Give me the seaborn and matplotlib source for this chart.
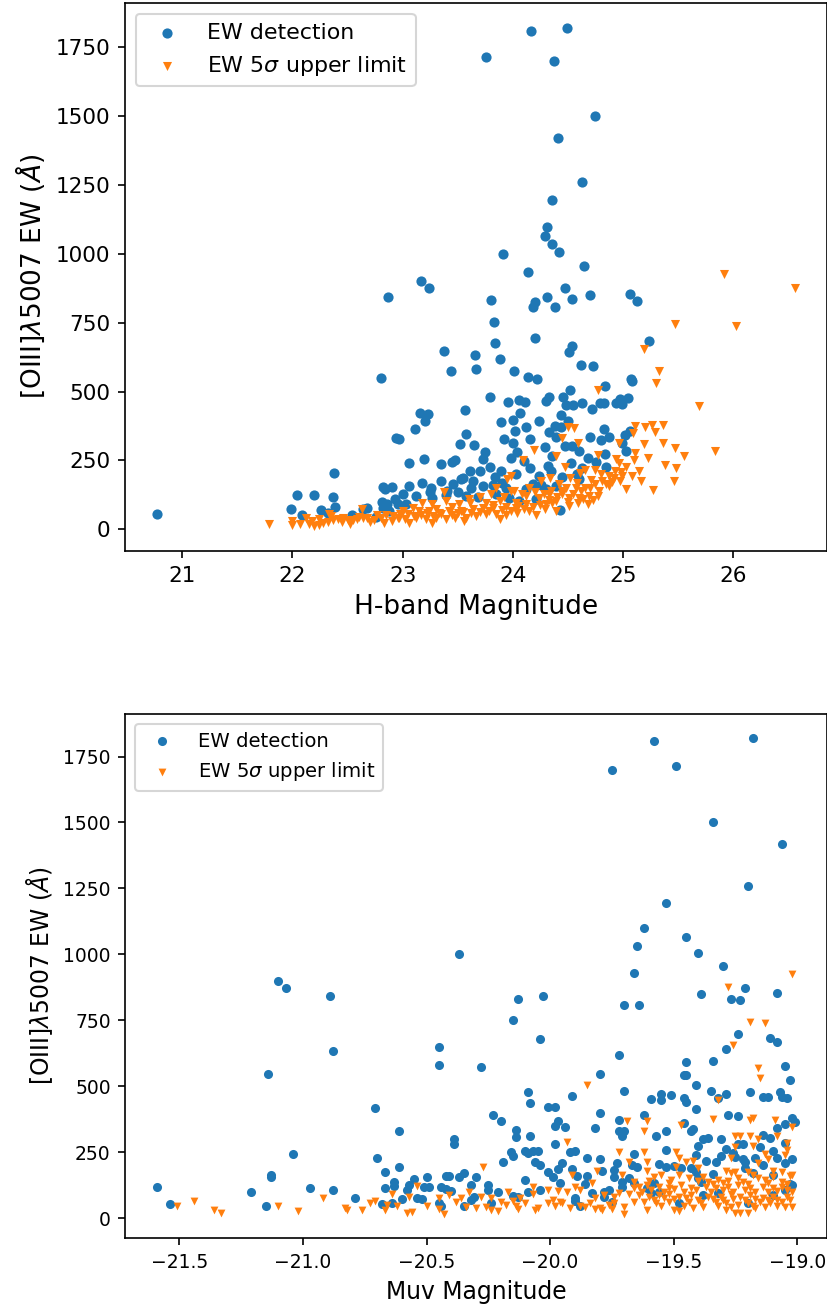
import matplotlib
matplotlib.use("Agg")
import matplotlib.pyplot as plt
import seaborn as sns

# ---------------- H-band panel ----------------
h_det = [24.17, 24.49, 23.76, 24.37, 24.75, 24.41, 24.63, 24.36, 24.31, 24.29, 24.36, 24.42, 23.91,
         24.65, 24.14, 23.17, 23.24, 22.87, 24.47, 23.80, 24.20, 24.31, 24.18, 24.38, 24.54, 24.70,
         25.06, 25.13, 23.83, 23.84, 24.20, 24.54, 24.51, 25.24, 23.38, 23.66, 23.88, 23.44, 23.67,
         24.01, 24.62, 24.73, 22.80, 24.14, 24.22, 25.07,
         25.08, 24.84, 24.52, 24.46, 25.05, 24.97, 24.99, 24.94, 24.83, 24.79, 24.63, 24.55, 24.48,
         24.72, 24.44, 24.50, 24.44, 25.06, 24.83, 25.02, 24.70, 24.80, 24.87, 24.99, 24.54, 24.47,
         24.60, 25.03, 24.84, 24.76, 24.53, 24.85, 24.63, 24.60, 24.43,
         23.79, 23.96, 24.06, 24.11, 24.33, 24.30, 23.57, 23.16, 23.23, 23.20, 24.07, 23.89, 24.00,
         24.12, 24.02, 24.24, 24.38, 23.11, 22.97, 23.58, 23.92, 24.33, 24.39, 23.52, 23.65, 24.00,
         24.16, 24.29, 23.75, 23.98, 24.04, 23.06, 23.19, 23.35, 23.45, 23.48, 23.73, 23.79, 23.70,
         23.61, 24.10, 24.16, 24.32, 24.35, 23.55, 23.64, 23.89, 24.03, 24.24, 23.06, 23.18, 23.35,
         23.46, 23.53, 23.26, 23.82, 23.73, 23.94, 24.18, 24.30, 24.39, 23.00, 23.12, 23.27, 23.39,
         23.58, 23.68, 23.85, 23.97, 24.06, 24.21, 23.03,
         20.77, 22.94, 22.38, 22.82, 22.90, 22.84, 22.04, 22.20, 22.37, 21.99, 22.09, 22.26, 22.39,
         22.32, 22.54, 22.64, 22.68, 22.81, 22.86, 22.93, 22.82, 22.88, 22.96, 22.76,
         23.40, 23.62, 23.90, 24.12, 24.26, 24.45, 24.58, 24.68, 24.36, 23.84, 23.50, 23.25]
h_det_ew = [1808, 1821, 1715, 1700, 1501, 1420, 1260, 1196, 1099, 1065, 1035, 1008, 1000,
            957, 933, 903, 877, 845, 875, 832, 825, 843, 807, 808, 835, 852,
            853, 829, 751, 677, 696, 666, 643, 682, 649, 633, 617, 573, 582,
            574, 596, 592, 550, 552, 546, 546,
            539, 521, 505, 482, 477, 472, 454, 457, 457, 457, 460, 453, 450,
            437, 414, 393, 372, 358, 364, 342, 337, 325, 337, 315, 303, 303,
            285, 284, 275, 245, 240, 227, 224, 181, 70,
            479, 461, 471, 461, 482, 467, 435, 421, 419, 392, 423, 390, 397,
            372, 358, 392, 376, 364, 328, 346, 328, 352, 334, 309, 307, 312,
            328, 300, 281, 259, 279, 242, 257, 239, 246, 251, 255, 227, 212,
            212, 249, 224, 230, 212, 186, 176, 212, 200, 194, 158, 170, 176,
            164, 182, 151, 161, 158, 151, 164, 146, 158, 127, 121, 115, 125,
            121, 118, 127, 115, 103, 109, 91,
            57, 331, 204, 155, 155, 146, 124, 125, 119, 75, 51, 71, 82,
            60, 51, 73, 76, 99, 91, 109, 79, 67, 91, 46,
            140, 150, 170, 145, 160, 190, 200, 260, 265, 190, 135, 135]

h_lim = [25.92, 26.56, 25.47, 26.03, 25.19, 25.33, 25.30, 24.77, 25.69, 25.11, 25.20, 25.26, 25.36,
         25.29, 25.09, 24.50, 24.56, 24.45, 24.59, 24.96, 25.19, 25.36, 25.47, 25.84, 25.55, 25.11,
         25.23, 24.77, 24.94, 24.96, 25.10, 25.38, 25.48, 24.47, 25.03, 24.66, 24.75, 24.93, 24.98,
         25.15, 24.61, 25.08, 25.16, 25.46, 25.27, 25.03, 24.52, 24.71, 24.81, 24.87, 24.90, 24.97,
         24.75, 24.87, 24.66, 24.57, 24.48, 24.42, 24.69, 24.77, 24.60, 24.51, 24.59, 24.68, 24.51,
         24.45,
         24.19, 24.39, 24.09, 23.98, 23.95, 24.34, 24.26, 23.85, 24.01, 24.15, 23.38, 23.70, 23.92,
         23.18, 23.27, 23.39, 23.51, 23.61, 23.76, 23.88, 24.03, 24.12, 24.24, 24.33, 24.39, 23.09,
         23.00, 23.15, 23.24, 23.33, 23.42, 23.53, 23.64, 23.73, 23.82, 23.94, 24.03, 24.12, 24.21,
         24.30, 24.36, 23.02, 23.12, 23.21, 23.30, 23.39, 23.48, 23.58, 23.67, 23.76, 23.85, 23.94,
         24.04, 24.15, 24.39, 24.29, 22.97, 23.06, 23.27, 23.56, 23.88,
         21.79, 22.00, 22.00, 22.07, 22.12, 22.18, 22.20, 22.24, 22.24, 22.33, 22.32, 22.37, 22.41,
         22.46, 22.50, 22.55, 22.59, 22.64, 22.63, 22.68, 22.74, 22.77, 22.83, 22.85, 22.91, 22.96,
         22.52, 22.15,
         23.05, 23.10, 23.17, 23.22, 23.28, 23.35, 23.45, 23.50, 23.55, 23.62, 23.70, 23.78, 23.82,
         23.90, 23.98, 24.05, 24.10, 24.18, 24.25, 24.33, 24.40, 24.45, 24.35, 24.28, 24.20, 24.08,
         23.98, 23.80, 23.60, 23.45, 23.30, 22.98, 22.90, 22.80, 22.70, 22.60, 22.45, 22.35, 22.28,
         24.55, 24.62, 24.70, 24.78, 24.85, 24.92, 24.99, 24.58, 24.80, 24.50, 24.73, 24.64]
h_lim_ew = [926, 877, 745, 738, 655, 573, 532, 506, 449, 374, 372, 377, 380,
            354, 348, 370, 369, 330, 315, 312, 309, 315, 295, 284, 267, 277,
            259, 271, 256, 241, 251, 235, 223, 228, 226, 216, 217, 212, 210,
            212, 206, 194, 176, 176, 144, 148, 188, 180, 176, 194, 173, 176,
            164, 158, 151, 149, 151, 164, 121, 121, 115, 115, 97, 91, 85,
            127,
            288, 267, 251, 193, 182, 186, 176, 151, 139, 151, 137, 118, 118,
            97, 91, 103, 91, 97, 97, 103, 97, 121, 115, 127, 103, 79,
            67, 67, 67, 60, 67, 67, 73, 76, 79, 81, 79, 91, 52,
            91, 97, 36, 42, 36, 42, 36, 42, 42, 48, 55, 57, 52,
            60, 67, 67, 73, 42, 24, 24, 30, 36,
            18, 30, 16, 20, 42, 30, 12, 16, 39, 57, 28, 33, 36,
            42, 33, 33, 36, 42, 73, 42, 33, 52, 24, 52, 48, 42,
            18, 18,
            55, 48, 52, 58, 50, 55, 52, 58, 62, 58, 64, 68, 88,
            72, 66, 85, 75, 82, 88, 105, 118, 140, 140, 130, 135, 130,
            140, 130, 110, 80, 75, 55, 30, 40, 28, 45, 25, 48, 22,
            130, 140, 150, 140, 165, 185, 195, 170, 200, 100, 105, 110]

# ---------------- Muv panel ----------------
muv_det = [-19.58, -19.18, -19.75, -19.49, -19.34, -19.06, -19.20, -19.53, -19.62, -19.45, -19.65,
           -20.37, -19.40, -19.66, -19.30, -21.10, -21.07, -20.89, -20.13, -20.03, -19.70, -19.64,
           -19.39, -19.27, -19.23, -19.21, -19.08,
           -20.88, -21.14, -20.45, -20.45, -20.71, -20.61, -21.04, -21.13, -21.13, -21.59, -21.54,
           -21.21, -21.15, -20.97, -20.88, -20.79, -20.70, -20.67, -20.61, -20.67, -20.63, -20.63,
           -20.68, -20.64, -20.60, -20.58, -20.57, -20.55, -20.54, -20.52, -20.51, -20.50, -20.49,
           -20.44, -20.45, -20.44, -20.42, -20.42,
           -20.15, -20.04, -20.28, -19.72, -19.80, -19.70, -20.09, -20.08, -20.01, -19.98, -19.91,
           -20.23, -20.20, -19.97, -19.98, -19.94, -19.80, -19.82, -19.72, -19.72, -19.70, -19.71,
           -20.39, -20.39, -20.14, -20.14, -20.08, -19.98, -20.16, -20.15, -20.10, -20.09, -20.07,
           -20.05, -19.92, -19.90, -19.85, -19.80, -19.66, -20.19, -20.06, -20.04, -19.95, -19.73,
           -19.67, -19.65, -20.41, -20.37, -20.35, -20.30, -20.10, -20.01, -19.99, -19.97, -19.91,
           -19.89, -19.85, -19.79, -19.74, -19.74, -19.68, -20.40, -20.32, -20.25, -20.25, -20.21,
           -20.15, -20.13, -20.09, -20.04, -19.96, -19.90, -19.86, -19.83, -19.78, -19.76, -19.71,
           -19.71, -19.66, -20.35, -20.32, -20.31, -20.24, -19.90, -19.88, -19.75, -19.78,
           -19.24, -19.11, -19.08, -19.29, -19.45, -19.34, -19.05, -19.03, -19.46, -19.45, -19.41,
           -19.59, -19.55, -19.55, -19.51, -19.46, -19.45, -19.35, -19.32, -19.29, -19.19, -19.14,
           -19.12, -19.07, -19.06, -19.04, -19.41, -19.62, -19.28, -19.24, -19.02, -19.01, -19.05,
           -19.46, -19.42, -19.43, -19.53, -19.57, -19.38, -19.36, -19.31, -19.14, -19.11, -19.08,
           -19.40, -19.29, -19.24, -19.22, -19.15, -19.10, -19.05, -19.53, -19.41, -19.31, -19.26,
           -19.25, -19.22, -19.21, -19.33, -19.37, -19.17, -19.14, -19.08, -19.05, -19.02, -19.56,
           -19.53, -19.50, -19.47, -19.43, -19.41, -19.40, -19.39, -19.34, -19.21, -19.18, -19.10,
           -19.03, -19.02, -19.58, -19.61, -19.56, -19.59, -19.48, -19.38, -19.32, -19.20, -19.10,
           -19.05]
muv_det_ew = [1807, 1821, 1699, 1713, 1500, 1418, 1259, 1195, 1099, 1064, 1033,
              1000, 1007, 931, 957, 900, 874, 844, 832, 842, 809, 809,
              851, 832, 828, 874, 853,
              632, 546, 649, 582, 419, 330, 242, 162, 155, 120, 53,
              101, 48, 114, 107, 75, 228, 176, 195, 113, 138, 123,
              53, 56, 71, 105, 126, 147, 75, 72, 118, 156, 118,
              119, 56, 47, 160, 109,
              751, 678, 572, 618, 548, 483, 478, 436, 423, 421, 462,
              392, 367, 367, 348, 345, 398, 340, 373, 329, 329, 310,
              301, 282, 335, 308, 310, 280, 250, 237, 256, 246, 255,
              256, 252, 256, 227, 225, 242, 214, 214, 202, 208, 211,
              202, 195, 161, 157, 170, 157, 145, 176, 157, 185, 187,
              161, 161, 179, 183, 157, 153, 103, 126, 126, 107, 100,
              85, 81, 98, 107, 132, 75, 128, 96, 100, 107, 119,
              138, 132, 47, 69, 81, 56, 65, 47, 62, 81,
              697, 683, 666, 642, 592, 595, 575, 522, 542, 542, 506,
              453, 449, 472, 468, 455, 439, 483, 455, 472, 477, 461,
              458, 478, 461, 457, 413, 392, 393, 389, 379, 364, 356,
              359, 337, 331, 331, 311, 299, 303, 301, 316, 303, 341,
              274, 264, 280, 280, 270, 256, 284, 259, 238, 236, 246,
              233, 225, 214, 214, 217, 227, 202, 230, 208, 223, 204,
              195, 199, 189, 189, 174, 151, 136, 166, 189, 170, 164,
              128, 126, 132, 113, 100, 94, 56, 88, 94, 56, 88,
              107]

muv_lim = [-19.28, -19.02,
           -21.51, -21.44, -21.36, -21.33, -21.10, -21.02, -20.92, -20.83, -20.82, -20.76, -20.73,
           -20.71, -20.67, -20.66, -20.64, -20.62, -20.58, -20.56, -20.57, -20.54, -20.50, -20.45,
           -20.45, -20.43,
           -19.85, -19.69, -19.93, -19.72, -19.68, -20.27, -19.81, -19.91, -19.71, -19.83, -19.66,
           -20.07, -20.36, -20.33, -20.28, -20.24, -20.17, -20.12, -20.07, -20.01, -19.97, -19.93,
           -19.88, -19.82, -19.78, -19.74, -19.68, -19.66, -20.34, -20.30, -20.26, -20.24, -20.21,
           -20.18, -20.14, -20.13, -20.10, -20.06, -20.01, -19.99, -19.96, -19.95, -19.88, -19.84,
           -19.82, -19.79, -19.76, -19.74, -19.70, -19.70, -19.66, -20.41, -20.38,
           -19.19, -19.13, -19.26, -19.16, -19.15, -19.32, -19.34, -19.19, -19.18, -19.09, -19.02,
           -19.61, -19.62, -19.47, -19.25, -19.23, -19.19, -19.16, -19.08, -19.25, -19.18, -19.13,
           -19.05, -19.04, -19.04, -19.62, -19.49, -19.48, -19.61, -19.61, -19.45, -19.42, -19.27,
           -19.12, -19.16, -19.49, -19.40, -19.29, -19.27, -19.25, -19.20, -19.18, -19.10, -19.06,
           -19.03, -19.02, -19.58, -19.55, -19.51, -19.48, -19.44, -19.38, -19.36, -19.32, -19.30,
           -19.24, -19.22, -19.16, -19.13, -19.10, -19.06, -19.64, -19.61, -19.56, -19.52, -19.47,
           -19.43, -19.37, -19.33, -19.28, -19.24, -19.19, -19.14, -19.10, -19.06, -19.02, -19.64,
           -19.60, -19.56, -19.52, -19.48, -19.43, -19.36, -19.31, -19.27, -19.23, -19.19, -19.14,
           -19.10, -19.04, -19.62, -19.57, -19.52, -19.44, -19.39, -19.33, -19.29, -19.24, -19.20,
           -19.15, -19.11, -19.06, -19.61, -19.50, -19.48, -19.42, -19.29, -19.25, -19.23, -19.20,
           -19.17, -19.08, -19.05, -19.02,
           -19.63, -19.59, -19.54, -19.50, -19.46, -19.41, -19.35, -19.30, -19.26, -19.21, -19.17,
           -19.12, -19.08, -19.04, -19.58, -19.54, -19.50, -19.45, -19.40, -19.34, -19.30, -19.26,
           -19.21, -19.17, -19.12, -19.08, -19.03, -19.55, -19.46, -19.38, -19.32, -19.27, -19.18,
           -19.13, -19.60, -19.52, -19.40, -19.34, -19.28, -19.20, -19.12, -19.04,
           -20.05, -19.98, -19.92, -19.86, -19.80, -19.75, -20.20, -20.15, -19.90, -19.72]
muv_lim_ew = [878, 925,
              47, 65, 31, 21, 47, 28, 76, 40, 32, 32, 56,
              66, 31, 50, 90, 47, 18, 24, 81, 122, 47, 75,
              34, 15,
              505, 369, 290, 249, 212, 194, 180, 164, 164, 132, 138,
              119, 77, 98, 81, 75, 98, 75, 90, 107, 103, 100,
              107, 75, 88, 81, 90, 113, 43, 37, 43, 31, 27,
              50, 47, 34, 56, 31, 56, 69, 62, 56, 47, 56,
              34, 31, 50, 56, 43, 14, 62, 88, 62,
              743, 739, 657, 570, 530, 449, 375, 372, 379, 373, 346,
              369, 331, 354, 312, 312, 312, 299, 313, 269, 275, 242,
              240, 284, 259, 252, 250, 230, 214, 179, 214, 217, 230,
              225, 211, 193, 189, 179, 170, 174, 176, 164, 179, 176,
              161, 164, 157, 164, 145, 164, 151, 157, 138, 145, 132,
              151, 138, 151, 145, 157, 138, 119, 126, 119, 113, 126,
              113, 119, 113, 119, 126, 113, 119, 113, 119, 100, 88,
              81, 88, 90, 81, 88, 81, 81, 90, 81, 88, 75,
              81, 81, 62, 56, 62, 62, 56, 62, 56, 50, 56,
              62, 56, 62, 31, 31, 27, 37, 31, 20, 21, 21,
              39, 46, 43, 43,
              100, 105, 100, 110, 100, 105, 100, 105, 100, 105, 100,
              98, 102, 105, 70, 75, 72, 75, 70, 74, 70, 72,
              70, 74, 70, 68, 70, 45, 45, 42, 45, 42, 45,
              42, 140, 135, 140, 130, 140, 130, 135, 130,
              40, 45, 38, 42, 40, 36, 60, 65, 120, 95]

blue, orange = sns.color_palette("tab10")[:2]
ylabel = r"[OIII]$\lambda$5007 EW ($\AA$)"

fig = plt.figure(figsize=(5.52, 8.7), dpi=150)
ax1 = fig.add_axes([0.1510, 0.5778, 0.8474, 0.4201])
ax2 = fig.add_axes([0.1513, 0.0511, 0.8471, 0.4018])

# H-band magnitude panel
sns.scatterplot(x=h_det, y=h_det_ew, ax=ax1, color=blue, marker="o", s=24,
                linewidth=0, label="EW detection")
sns.scatterplot(x=h_lim, y=h_lim_ew, ax=ax1, color=orange, marker="v", s=19,
                linewidth=0, label=r"EW 5$\sigma$ upper limit")
ax1.set_xlabel("H-band Magnitude", fontsize=12.7)
ax1.set_ylabel(ylabel, fontsize=12.7)
ax1.tick_params(labelsize=10.3)
ax1.legend(loc="upper left", fontsize=10.6)

# Muv magnitude panel
sns.scatterplot(x=muv_det, y=muv_det_ew, ax=ax2, color=blue, marker="o", s=19,
                linewidth=0, label="EW detection")
sns.scatterplot(x=muv_lim, y=muv_lim_ew, ax=ax2, color=orange, marker="v", s=14,
                linewidth=0, label=r"EW 5$\sigma$ upper limit")
ax2.set_xlabel("Muv Magnitude", fontsize=11.3)
ax2.set_ylabel(ylabel, fontsize=11.3)
ax2.tick_params(labelsize=9.0)
ax2.legend(loc="upper left", fontsize=9.4)

fig.savefig("out.png", dpi=150)
